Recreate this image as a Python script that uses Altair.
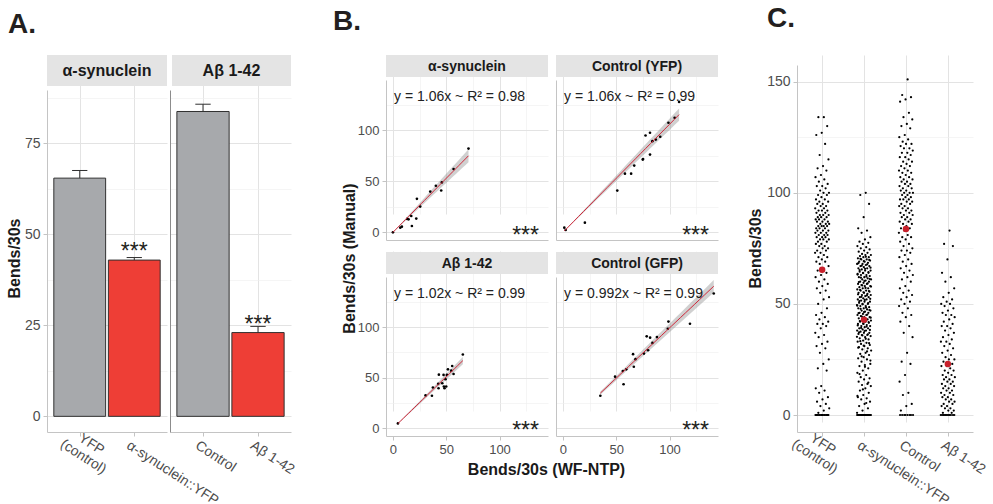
import json
import numpy as np
import pandas as pd
import altair as alt

FONT = "Liberation Sans"
DARK = "#1a1a1a"
TICK_TXT = "#4d4d4d"
LINE = "#c4c4c4"
G_MAJ = "#e3e3e3"
G_MIN = "#efefef"
STRIP = "#e4e4e4"
GREY_BAR = "#a7a9ac"
RED_BAR = "#ee3e36"
RED_PT = "#c8202b"
FIT_RED = "#d0283a"
LETTER = "#231f20"

# ---------------- Panel A data ----------------
a_facets = ["α-synuclein", "Aβ 1-42"]
a_labels = [["YFP\n(control)", "α-synuclein::YFP"], ["Control", "Aβ 1-42"]]
a_means = [[65.4, 42.9], [83.7, 23.0]]
a_upper = [[67.5, 43.6], [85.7, 24.7]]
a_groups = ["control", "disease"]
a_marks = ["", "***"]

# ---------------- Panel B data ----------------
b_facets = ["α-synuclein", "Control (YFP)", "Aβ 1-42", "Control (GFP)"]
b_slopes = [1.06, 1.06, 1.02, 0.992]
b_r2 = ["0.98", "0.99", "0.99", "0.99"]
b_x = [
    [0, 6.9, 8.4, 13.4, 14.7, 17.2, 17.8, 21.9, 22.5, 25.6, 35, 40.3, 45.3, 45.9, 56.9, 70.9],
    [1.3, 2.6, 20.6, 51, 58.2, 64, 66.9, 74.9, 75.2, 77.5, 81.7, 81.7, 83.9, 87.1, 91.3, 99, 104.8, 109],
    [4.7, 30.6, 36.6, 37.5, 43.1, 42.5, 42.8, 46.3, 47.5, 47.8, 48.4, 49.4, 50, 50.6, 51.6, 54.7, 55.6, 56.9, 65.6],
    [35.1, 48.9, 56.9, 56.2, 59.4, 65.8, 66.5, 68.1, 76, 78.6, 79.9, 81.8, 84, 88.2, 99, 98.4, 119.2, 141.5],
]
b_y = [
    [0, 4.6, 5.6, 13.2, 12.8, 16, 6.2, 13.5, 32.9, 25.3, 40, 45.7, 41.1, 49, 62.2, 82.2],
    [4.6, 2.3, 9.5, 41, 57.6, 57.6, 65.5, 71.4, 72, 95, 97.7, 76.3, 89.5, 91, 93.8, 107.6, 112.5, 128],
    [4.9, 32.6, 32.2, 40.4, 53.1, 44, 39.7, 44.6, 52.8, 41.4, 39.7, 48.5, 41.4, 52.8, 58.3, 57, 61.6, 53.7, 73],
    [32.2, 51.1, 43.6, 56.7, 58.3, 73.3, 60.9, 68.4, 73.9, 90.9, 77.2, 89.6, 84.4, 90.2, 105.5, 98.4, 103.3, 133.2],
]

# ---------------- Panel C data ----------------
c_labels = ["YFP\n(control)", "α-synuclein::YFP", "Control", "Aβ 1-42"]
c_means = [65.4, 42.9, 83.7, 23.0]
c_yfp = [134, 134, 130, 127, 126, 122, 117, 115, 112, 111, 110, 108, 107, 106, 105,
         104, 103, 103, 102, 101, 100, 100, 99, 99, 98, 97, 97, 96, 96, 95, 95, 94, 94, 93, 93,
         92, 92, 92, 91, 91, 90, 90, 90, 89, 89, 89, 88, 88, 88, 87, 87, 87, 86, 86, 86, 85, 85,
         85, 85, 84, 84, 84, 83, 83, 83, 82, 82, 82, 81, 81, 81, 80, 80, 80, 79, 79, 79, 78, 78,
         77, 77, 76, 76, 75, 75, 74, 74, 73, 73, 72, 71, 71, 70, 69, 69, 68, 67, 66, 65, 64, 63,
         62, 61, 60, 59, 58, 57, 56, 55, 53, 52, 50, 48, 46, 45, 44, 43, 42, 41, 41, 40, 39, 37,
         36, 35, 33, 32, 31, 30, 28, 25, 23, 21, 20, 13, 12, 11, 10, 8, 7, 6, 5, 4, 3, 2, 1,
         0, 0, 0, 0, 0, 0, 0, 0, 0, 0, 0, 0, 0, 0, 0, 0]
c_asyn = [100, 99, 95, 89, 84, 83, 82, 80, 79, 78, 77.5, 77, 76, 75.5, 75, 74.5, 74, 73.5, 73, 72.5,
          72, 72, 71.5, 71, 71, 70.5, 70, 70, 69.5, 69, 69, 68.5, 68, 68, 67.5, 67, 67, 66.5, 66, 66,
          65.5, 65, 65, 64.5, 64, 64, 63.5, 63, 63, 62.5, 62, 62, 61.5, 61, 61, 60.5, 60, 60, 59.5, 59,
          59, 58.5, 58, 58, 57.5, 57, 57, 56.5, 56, 56, 55.5, 55, 55, 54.5, 54, 54, 53.5, 53, 53, 52.5,
          52, 52, 51.5, 51, 51, 50.5, 50, 50, 49.5, 49, 49, 48.5, 48, 48, 47.5, 47, 47, 46.5, 46, 46,
          45.5, 45, 45, 44.5, 44, 44, 43.5, 43, 43, 42.5, 42, 42, 41.5, 41, 41, 40.5, 40, 40, 39.5, 39,
          39, 38.5, 38, 38, 37.5, 37, 37, 36.5, 36, 36, 35.5, 35, 34.5, 34, 33.5, 33, 32.5, 32, 31.5, 31,
          30.5, 30, 29.5, 29, 28, 27.5, 27, 26, 25.5, 25, 24, 23, 22.5, 22, 21, 20, 19, 18, 17, 16.5, 16,
          15, 14, 13.5, 13, 12, 11, 10, 9, 8, 7.5, 7, 6, 5, 4, 3, 2, 1,
          71.2, 70.3, 69.8, 69.2, 68.3, 67.8, 67.2, 66.3, 65.8, 65.2, 64.3, 63.8, 63.2, 62.3, 61.8,
          61.2, 60.3, 59.8, 59.2, 58.3, 57.8, 57.2, 56.3, 55.8, 55.2, 54.3, 53.8, 53.2, 52.3, 51.8,
          51.2, 50.3, 49.8, 49.2, 48.3, 47.8, 47.2, 46.3, 45.8, 45.2, 44.3, 43.8, 43.2, 42.3, 41.8,
          41.2, 40.3, 39.8, 39.2, 38.3, 37.8, 37.2, 36.3, 35.8, 35.2, 34.3, 33.2, 32.3, 31.2, 30.3,
          28.6, 26.4, 24.5, 21.7, 18.4, 14.6, 11.5, 8.6, 5.4,
          0, 0, 0, 0, 0, 0, 0, 0, 0, 0, 0, 0, 0, 0, 0, 0, 0, 0, 0, 0, 0, 0, 0, 0]
c_ctrl = [151, 144, 143, 142, 141, 136, 134, 133, 131, 130, 129, 126, 125, 124, 123, 122, 122, 121,
          120, 120, 119, 118, 118, 117, 116, 116, 115, 114, 114, 113, 112, 112, 111, 110, 110, 109,
          109, 108, 107, 107, 106, 106, 105, 105, 104, 104, 103, 103, 102, 102, 101, 101, 100, 100,
          100, 99, 99, 98, 98, 97, 97, 97, 96, 96, 95, 95, 94, 94, 93, 93, 92, 92, 91, 91, 90, 90,
          89, 89, 88, 88, 87, 87, 86, 86, 85, 84, 84, 83, 82, 81, 80, 80, 79, 78, 77, 76, 75, 74,
          74, 73, 72, 71, 70, 69, 68, 67, 66, 65, 64, 63, 62, 61, 60, 58, 57, 56, 55, 54, 53, 52,
          51, 50, 49, 48, 46, 45, 44, 42, 40, 37, 35, 28, 24, 23, 18, 15, 10, 9, 5, 4, 2,
          0, 0, 0, 0, 0, 0, 0, 0]
c_abeta = [83, 77, 76, 70, 64, 62, 60, 57, 55, 53, 52, 51, 50, 50, 49, 48, 47, 46, 45, 45, 44, 43,
           42, 41, 40, 40, 39, 38, 37, 36, 35, 34, 33, 33, 32, 31, 30, 29, 28, 27, 26, 25, 25, 24,
           23, 22, 22, 21, 20, 20, 19, 18, 18, 17, 17, 16, 16, 15, 15, 14, 14, 13, 13, 12, 12, 11,
           11, 10, 10, 9, 9, 8, 8, 7, 7, 6, 6, 5, 5, 4, 4, 3, 3, 2, 2, 1, 1,
           0, 0, 0, 0, 0, 0, 0, 0, 0, 0, 0, 0]


# ---------------- helpers ----------------
def cond(major, minor_val, major_val):
    return {"condition": {"test": f"datum.value % {major} != 0", "value": minor_val},
            "value": major_val}


def label_expr(labels):
    arr = [l.split("\n") if "\n" in l else l for l in labels]
    return json.dumps(arr, ensure_ascii=False) + "[round(datum.value) - 1]"


def num_axis(values, major, labels=True, ticks=True, domain_color=LINE, size=14, title=None, **kw):
    return alt.Axis(values=values, grid=True, gridColor=cond(major, G_MIN, G_MAJ),
                    gridWidth=cond(major, 0.6, 1), labels=labels, ticks=ticks,
                    labelExpr=f"datum.value % {major} == 0 ? datum.label : ''",
                    tickOpacity=cond(major, 0, 1), tickColor=LINE, tickSize=4,
                    domainColor=domain_color, labelFont=FONT, labelFontSize=size,
                    labelColor=TICK_TXT, labelPadding=3, labelOverlap=False, labelFlush=False,
                    title=title, titleFont=FONT, titleFontSize=16, titleFontWeight="bold",
                    titleColor=DARK, **kw)


def cat_axis(labels, multi_off, other_off):
    multi = [i + 1 for i, l in enumerate(labels) if "\n" in l]
    extra = {}
    if multi:
        test = " || ".join(f"datum.value == {v}" for v in multi)
        extra = dict(
            labelAlign={"condition": {"test": test, "value": "center"}, "value": "left"},
            labelOffset={"condition": {"test": test, "value": multi_off}, "value": other_off})
    else:
        extra = dict(labelAlign="left", labelOffset=other_off)
    return alt.Axis(values=list(range(1, len(labels) + 1)), labelExpr=label_expr(labels),
                    labelAngle=33, labelBaseline="top", labelFont=FONT,
                    labelFontSize=14, labelColor=TICK_TXT, labelPadding=2, labelLineHeight=15,
                    labelOverlap=False, labelFlush=False, tickSize=4, tickColor=LINE,
                    domainColor=LINE, grid=True, gridColor=G_MAJ, gridWidth=1, title=None,
                    **extra)


TITLE_KW = dict(titleAngle=270, titleAlign="center", titleBaseline="middle")


def one(values):
    return alt.Data(values=[values])


def strip(label, x0, x1, y0, y1, size):
    bg = alt.Chart(one({"t": label})).mark_rect(color=STRIP).encode(
        x=alt.value(x0), x2=alt.value(x1), y=alt.value(y0), y2=alt.value(y1))
    tx = alt.Chart(one({"t": label})).mark_text(
        font=FONT, fontSize=size, fontWeight="bold", color=DARK, align="center",
        baseline="middle").encode(x=alt.value((x0 + x1) / 2), y=alt.value((y0 + y1) / 2 + 0.5),
                                  text="t:N")
    return [bg, tx]


def letter(txt, x, y):
    return alt.Chart(one({"t": txt})).mark_text(
        font=FONT, fontSize=28, fontWeight="bold", color=LETTER, align="left",
        baseline="alphabetic").encode(x=alt.value(x), y=alt.value(y), text="t:N")


def anchor(x, y):
    return alt.Chart(one({"a": 1})).mark_rect(opacity=0).encode(
        x=alt.value(x), x2=alt.value(x + 1), y=alt.value(y), y2=alt.value(y + 1))


# ---------------- Panel A ----------------
A_H = 377
A_W = [120, 121]


def panel_a(i):
    W = A_W[i]
    df = pd.DataFrame({"pos": [1, 2], "mean": a_means[i], "upper": a_upper[i],
                       "grp": a_groups, "mark": a_marks})
    xs = alt.Scale(domain=[0.4, 2.6], nice=False, zero=False)
    ys = alt.Scale(domain=[-4.3, 89.6], range=[A_H, 35], nice=False, zero=False)
    yvals = [0, 12.5, 25, 37.5, 50, 62.5, 75, 87.5]
    if i == 0:
        yax = num_axis(yvals, 25, title="Bends/30s", titleX=-33, titleY=203, **TITLE_KW)
    else:
        yax = num_axis(yvals, 25, labels=False, ticks=False, domain_color="#8c8c8c")
    xax = cat_axis(a_labels[i], 15, -3)
    base = alt.Chart(df).transform_calculate(
        lo="datum.pos - 0.475", hi="datum.pos + 0.475",
        clo="datum.pos - 0.14", chi="datum.pos + 0.14")
    bars = base.mark_bar(stroke="#303030", strokeWidth=1).encode(
        x=alt.X("lo:Q", scale=xs, axis=xax), x2="hi:Q",
        y=alt.Y("mean:Q", scale=ys, axis=yax), y2=alt.datum(0),
        color=alt.Color("grp:N", scale=alt.Scale(domain=a_groups, range=[GREY_BAR, RED_BAR]),
                        legend=None))
    err = base.mark_rule(color="#303030", strokeWidth=1).encode(
        x=alt.X("pos:Q", scale=xs, axis=xax), y=alt.Y("mean:Q", scale=ys, axis=yax), y2="upper:Q")
    cap = base.mark_rule(color="#303030", strokeWidth=1).encode(
        x=alt.X("clo:Q", scale=xs, axis=xax), x2="chi:Q", y=alt.Y("upper:Q", scale=ys, axis=yax))
    star = base.transform_filter("datum.mark != ''").mark_text(
        font=FONT, fontSize=23, baseline="alphabetic", dy=-1, color=LETTER).encode(
        x=alt.X("pos:Q", scale=xs, axis=xax), y=alt.Y("mean:Q", scale=ys, axis=yax), text="mark:N")
    x0 = 0 if i == 0 else 2
    layers = strip(a_facets[i], x0, W, 0, 31, 16) + [bars, err, cap, star]
    if i == 0:
        layers += [letter("A.", -39, -22), anchor(-47, -55)]
    return alt.layer(*layers).properties(width=W, height=A_H)


# ---------------- Panel B ----------------
B_W, B_H = 162, 381


def fit_frame(xs, ys, slope):
    x = np.asarray(xs, float)
    y = np.asarray(ys, float)
    s = np.sqrt(np.sum((y - slope * x) ** 2) / (len(x) - 1))
    sxx = np.sqrt(np.sum(x ** 2))
    gx = np.linspace(x.min(), x.max(), 25)
    se = 2.1 * s * gx / sxx
    return pd.DataFrame({"x": gx, "fit": slope * gx, "lo": slope * gx - se, "hi": slope * gx + se})


def panel_b_col(col):
    vals = [0, 25, 50, 75, 100, 125]
    groups, extras = [], []
    for row in (0, 1):
        k = row * 2 + col
        y_rng = [185, 25] if row == 0 else [B_H, 222]
        xs = alt.Scale(domain=[-6.5, 145.5], nice=False, zero=False)
        ys = alt.Scale(domain=[-7.5, 149.5], range=y_rng, nice=False, zero=False)
        if row == 0:
            xax = num_axis(vals, 50, labels=False, ticks=False, size=13, orient="bottom",
                           offset=-(B_H - 185))
        elif col == 0:
            xax = num_axis(vals, 50, size=13, orient="bottom", title="Bends/30s (WF-NTP)",
                           titleX=160, titleY=33, titleAlign="center", titleBaseline="middle")
        else:
            xax = num_axis(vals, 50, size=13, orient="bottom")
        if k == 0:
            yax = num_axis(vals, 50, size=13, title="Bends/30s (Manual)", titleX=-37,
                           titleY=203, orient="left", **TITLE_KW)
        else:
            yax = num_axis(vals, 50, labels=(col == 0), ticks=(col == 0), size=13, orient="left")
        pts = pd.DataFrame({"x": b_x[k], "y": b_y[k]})
        fit = fit_frame(b_x[k], b_y[k], b_slopes[k])
        band = alt.Chart(fit).mark_area(color="#8a8a8a", opacity=0.4).encode(
            x=alt.X("x:Q", scale=xs, axis=xax), y=alt.Y("lo:Q", scale=ys, axis=yax), y2="hi:Q")
        dots = alt.Chart(pts).mark_circle(size=7, color="black", opacity=1).encode(
            x=alt.X("x:Q", scale=xs, axis=xax), y=alt.Y("y:Q", scale=ys, axis=yax))
        line = alt.Chart(fit).mark_line(color=FIT_RED, strokeWidth=1).encode(
            x=alt.X("x:Q", scale=xs, axis=xax), y=alt.Y("fit:Q", scale=ys, axis=yax))
        groups.append(alt.layer(band, dots, line))
        s0, s1 = (0, 22) if row == 0 else (197, 219)
        eq = f"y = {b_slopes[k]:g}x  ~ R² = {b_r2[k]}"
        ann = alt.Chart(one({"t": eq})).mark_text(
            font=FONT, fontSize=14, color="#222222", align="left", baseline="middle").encode(
            x=alt.value(8), y=alt.value(42 if row == 0 else 239), text="t:N")
        stars = alt.Chart(one({"t": "***"})).mark_text(
            font=FONT, fontSize=23, color=LETTER, align="right", baseline="alphabetic").encode(
            x=alt.value(B_W - 9), y=alt.value(188 if row == 0 else 383), text="t:N")
        extras += strip(b_facets[k], 0, B_W, s0, s1, 14) + [ann, stars]
    if col == 0:
        extras.append(letter("B.", -53, -25))
    return alt.layer(*groups, *extras).resolve_scale(
        x="independent", y="independent").properties(width=B_W, height=B_H)


# ---------------- Panel C ----------------
C_W, C_H = 176, 377


def panel_c():
    rows = []
    for g, vals in enumerate([c_yfp, c_asyn, c_ctrl, c_abeta], start=1):
        for v in vals:
            rows.append({"grp": g, "val": v})
    pts = pd.DataFrame(rows)
    means = pd.DataFrame({"grp": [1, 2, 3, 4], "val": c_means})
    xs = alt.Scale(domain=[0.4, 4.6], nice=False, zero=False)
    ys = alt.Scale(domain=[-7.65, 157.5], range=[C_H, 10], nice=False, zero=False)
    yax = num_axis([0, 25, 50, 75, 100, 125, 150], 50, title="Bends/30s", titleX=-42,
                   titleY=193, **TITLE_KW)
    xax = cat_axis(c_labels, 4, -2)
    dots = alt.Chart(pts).transform_window(
        idx="row_number()", groupby=["grp"]).transform_calculate(
        xj="datum.grp + ((datum.idx * 0.618034) % 1 - 0.5) * 0.34").mark_circle(
        size=5, color="black", opacity=1).encode(
        x=alt.X("xj:Q", scale=xs, axis=xax), y=alt.Y("val:Q", scale=ys, axis=yax))
    mean_pts = alt.Chart(means).mark_circle(size=42, color=RED_PT, opacity=1).encode(
        x=alt.X("grp:Q", scale=xs, axis=xax), y=alt.Y("val:Q", scale=ys, axis=yax))
    return alt.layer(dots, mean_pts, letter("C.", -30, -28),
                     anchor(195, 448)).properties(width=C_W, height=C_H)


def gap(w, h=1):
    return alt.Chart(one({"g": 0})).mark_text(text="").properties(width=w, height=h)


items = [panel_a(0), gap(3), panel_a(1), gap(95), panel_b_col(0), gap(8), panel_b_col(1),
         gap(79), panel_c()]

chart = alt.hconcat(*items, spacing=0, bounds="flush", padding=0,
                    background="white").configure_view(stroke=None)

chart.save("out.html", embed_options={"renderer": "svg", "actions": False})
